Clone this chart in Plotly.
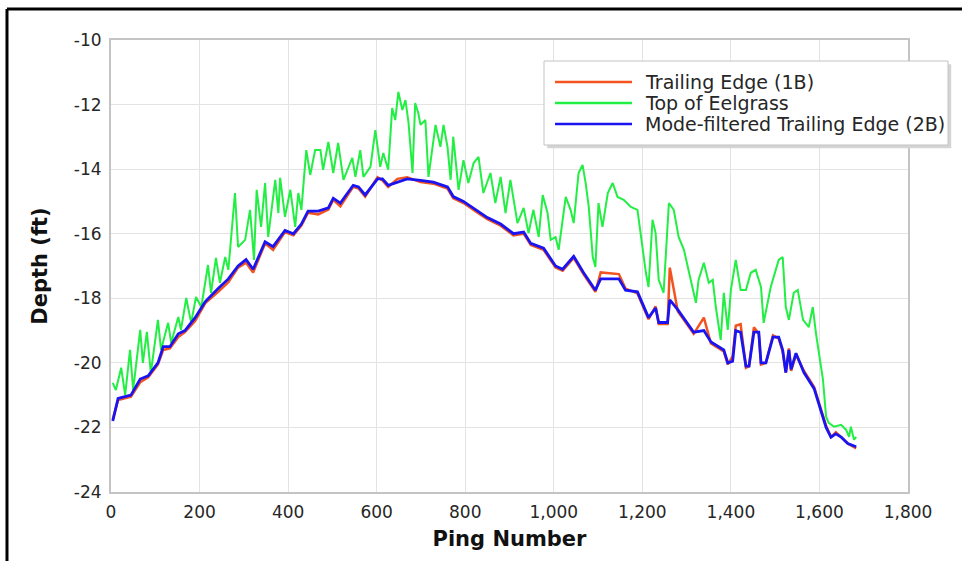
import plotly.graph_objects as go

# ---------------- data ----------------
ping_te = [4, 16, 45, 66, 84, 106, 118, 133, 152, 167,
           190, 213, 242, 265, 287, 305, 321, 337, 348, 366,
           393, 412, 430, 445, 468, 491, 502, 518, 547, 559,
           574, 602, 613, 626, 647, 669, 699, 728, 760, 773,
           796, 828, 850, 880, 909, 932, 948, 977, 1004, 1020,
           1045, 1067, 1094, 1106, 1147, 1162, 1189, 1214, 1230, 1237,
           1257, 1262, 1280, 1316, 1339, 1355, 1384, 1393, 1404, 1411,
           1422, 1434, 1441, 1452, 1463, 1468, 1479, 1495, 1508, 1517,
           1524, 1531, 1536, 1547, 1565, 1588, 1603, 1615, 1626, 1637,
           1649, 1664, 1683]

mode_filtered = [-21.8, -21.1, -21.0, -20.5, -20.4, -20.0, -19.5, -19.5, -19.1, -19.0,
                 -18.6, -18.1, -17.7, -17.4, -17.0, -16.8, -17.1, -16.6, -16.25, -16.4,
                 -15.9, -16.0, -15.7, -15.3, -15.3, -15.2, -14.9, -15.05, -14.5, -14.55,
                 -14.8, -14.3, -14.3, -14.5, -14.4, -14.3, -14.35, -14.4, -14.55, -14.85,
                 -15.0, -15.3, -15.5, -15.7, -16.0, -15.95, -16.3, -16.45, -17.0, -17.1,
                 -16.7, -17.2, -17.75, -17.4, -17.4, -17.75, -17.8, -18.6, -18.3, -18.75,
                 -18.75, -18.05, -18.35, -19.05, -19.0, -19.35, -19.6, -20.0, -19.95, -19.0,
                 -19.05, -20.1, -20.1, -19.05, -19.05, -20.0, -20.0, -19.2, -19.2, -19.6,
                 -20.3, -19.6, -20.2, -19.7, -20.3, -20.8, -21.45, -22.0, -22.3, -22.2,
                 -22.3, -22.5, -22.6]

trailing_edge = [-21.75, -21.15, -21.05, -20.6, -20.45, -20.05, -19.6, -19.55, -19.2, -19.05,
                 -18.7, -18.15, -17.8, -17.5, -17.05, -16.9, -17.2, -16.65, -16.3, -16.5,
                 -15.95, -16.05, -15.75, -15.35, -15.4, -15.25, -14.95, -15.15, -14.55, -14.6,
                 -14.85, -14.25, -14.35, -14.55, -14.3, -14.25, -14.4, -14.45, -14.6, -14.9,
                 -15.05, -15.35, -15.55, -15.75, -16.05, -16.0, -16.35, -16.5, -17.05, -17.15,
                 -16.75, -17.25, -17.8, -17.2, -17.25, -17.7, -17.85, -18.65, -18.25, -18.8,
                 -18.8, -17.05, -18.4, -19.1, -18.6, -19.4, -19.65, -20.05, -19.8, -18.85,
                 -18.8, -20.15, -20.1, -18.9, -19.1, -20.05, -20.0, -19.15, -19.25, -19.65,
                 -20.3, -19.55, -20.25, -19.75, -20.25, -20.75, -21.4, -21.95, -22.3, -22.15,
                 -22.3, -22.5, -22.65]

ping_eg = [4, 11, 23, 32, 43, 50, 66, 72, 81, 90,
           106, 113, 129, 136, 152, 158, 170, 181, 192, 204,
           219, 226, 237, 246, 258, 265, 280, 287, 303, 314,
           323, 329, 339, 348, 355, 371, 378, 382, 393, 405,
           416, 423, 430, 441, 450, 461, 473, 479, 491, 502,
           513, 525, 545, 552, 563, 570, 586, 597, 608, 615,
           626, 635, 642, 649, 658, 665, 672, 681, 687, 694,
           699, 710, 717, 733, 744, 751, 760, 767, 773, 785,
           796, 807, 819, 830, 841, 857, 868, 880, 891, 902,
           918, 932, 943, 954, 966, 975, 986, 993, 1004, 1011,
           1027, 1038, 1045, 1056, 1065, 1072, 1079, 1088, 1094, 1101,
           1110, 1122, 1133, 1144, 1158, 1174, 1189, 1196, 1208, 1214,
           1223, 1230, 1237, 1248, 1260, 1271, 1282, 1294, 1305, 1321,
           1327, 1339, 1350, 1359, 1366, 1377, 1384, 1393, 1400, 1411,
           1422, 1434, 1445, 1456, 1468, 1474, 1490, 1508, 1517, 1524,
           1531, 1542, 1551, 1563, 1576, 1585, 1592, 1599, 1608, 1615,
           1621, 1633, 1649, 1660, 1667, 1671, 1678, 1683]

eelgrass_top = [-20.62, -20.84, -20.15, -20.99, -19.6, -20.84, -18.98, -20.0, -19.04, -20.31,
                -18.67, -19.6, -18.76, -19.38, -18.58, -18.98, -17.99, -18.76, -17.96, -18.27,
                -16.97, -17.83, -16.75, -17.52, -16.72, -17.12, -14.74, -16.41, -16.19, -15.26,
                -16.81, -14.64, -15.79, -14.43, -16.10, -14.33, -15.36, -14.27, -15.48, -14.64,
                -15.79, -14.74, -15.26, -13.41, -14.18, -13.41, -13.41, -14.02, -13.16, -14.12,
                -13.19, -14.33, -13.65, -14.24, -13.41, -14.24, -13.93, -12.79, -13.93, -13.50,
                -14.02, -12.11, -12.48, -11.61, -12.17, -11.86, -12.57, -14.12, -11.95, -12.26,
                -12.63, -12.48, -14.24, -12.63, -13.31, -12.63, -13.31, -14.33, -13.0, -14.64,
                -13.72, -14.43, -13.81, -13.62, -14.74, -14.12, -15.05, -14.24, -15.36, -14.33,
                -15.67, -15.2, -15.98, -15.26, -16.1, -14.8, -15.36, -16.19, -16.1, -16.5,
                -14.86, -15.26, -15.67, -14.12, -13.87, -14.43, -15.17, -16.72, -17.03, -15.05,
                -15.79, -14.74, -14.43, -14.86, -14.95, -15.17, -15.26, -15.98, -17.21, -17.65,
                -15.57, -15.98, -17.43, -17.83, -15.05, -15.26, -16.1, -16.5, -17.21, -18.14,
                -17.43, -16.9, -17.52, -17.43, -18.27, -19.29, -17.83, -18.98, -17.74, -16.81,
                -17.74, -17.74, -17.21, -17.12, -17.65, -18.76, -17.65, -16.81, -16.72, -18.27,
                -18.67, -17.83, -17.74, -18.67, -18.89, -18.27, -19.07, -19.69, -20.53, -21.67,
                -21.86, -21.98, -21.92, -22.07, -22.29, -21.98, -22.38, -22.29]

x_ticks = [0, 200, 400, 600, 800, 1000, 1200, 1400, 1600, 1800]
x_tick_labels = ["0", "200", "400", "600", "800", "1,000", "1,200", "1,400", "1,600", "1,800"]
y_ticks = [-24, -22, -20, -18, -16, -14, -12, -10]
y_tick_labels = ["-24", "-22", "-20", "-18", "-16", "-14", "-12", "-10"]

series_names = ["Trailing Edge (1B)", "Top of Eelgrass", "Mode-filtered Trailing Edge (2B)"]
series_colors = ["#f2531f", "#22ee44", "#1a14f0"]

assert len(ping_te) == len(mode_filtered) == len(trailing_edge)
assert len(ping_eg) == len(eelgrass_top)

# ---------------- figure ----------------
FONT = "DejaVu Sans, Arial, sans-serif"
TXT = "#262626"

fig = go.Figure()
fig.add_trace(go.Scatter(x=ping_te, y=trailing_edge, mode="lines", name=series_names[0],
                         line=dict(color=series_colors[0], width=2.5)))
fig.add_trace(go.Scatter(x=ping_eg, y=eelgrass_top, mode="lines", name=series_names[1],
                         line=dict(color=series_colors[1], width=2)))
fig.add_trace(go.Scatter(x=ping_te, y=mode_filtered, mode="lines", name=series_names[2],
                         line=dict(color=series_colors[2], width=2.8)))

# legend box drawn as paper-anchored decoration (matches reference's long swatches)
L_X0, L_X1, L_Y0, L_Y1 = 0.5433, 1.0502, 0.7677, 0.9535
SW_X0, SW_X1, TXT_X = 0.5571, 0.6537, 0.6675
ROW_Y = [0.9071, 0.8606, 0.8142]

shapes = [
    # outer black frame (top and left edges are visible in the reference)
    dict(type="line", xref="paper", yref="paper", x0=-0.1305, x1=1.07, y0=1.0686, y1=1.0686,
         line=dict(color="black", width=3)),
    dict(type="line", xref="paper", yref="paper", x0=-0.1305, x1=-0.1305, y0=1.0686, y1=-0.16,
         line=dict(color="black", width=3)),
    # legend shadow + box
    dict(type="rect", xref="paper", yref="paper", x0=L_X0 + 0.004, x1=L_X1 + 0.004,
         y0=L_Y0 - 0.007, y1=L_Y1 - 0.007, line=dict(width=0), fillcolor="#d4d4d4", layer="above"),
    dict(type="rect", xref="paper", yref="paper", x0=L_X0, x1=L_X1, y0=L_Y0, y1=L_Y1,
         line=dict(color="#c4c4c4", width=1), fillcolor="white", layer="above"),
]
annotations = []
for name, color, ry in zip(series_names, series_colors, ROW_Y):
    shapes.append(dict(type="line", xref="paper", yref="paper", x0=SW_X0, x1=SW_X1, y0=ry, y1=ry,
                       line=dict(color=color, width=2.5), layer="above"))
    annotations.append(dict(xref="paper", yref="paper", x=TXT_X, y=ry, xanchor="left", yanchor="middle",
                            text=name, showarrow=False,
                            font=dict(family=FONT, size=19, color=TXT)))

fig.update_layout(
    width=962, height=561, autosize=False,
    margin=dict(l=111, r=54, t=40, b=69, pad=0),
    paper_bgcolor="white", plot_bgcolor="white",
    font=dict(family=FONT, size=17, color=TXT),
    showlegend=False,
    xaxis=dict(range=[0, 1800], tickmode="array", tickvals=x_ticks, ticktext=x_tick_labels,
               showgrid=True, gridcolor="#e3e3e3", gridwidth=1,
               showline=True, linecolor="#c4c4c4", linewidth=2, mirror=True,
               zeroline=False, ticks="", ticklabelstandoff=4,
               tickfont=dict(family=FONT, size=17, color=TXT),
               title=dict(text="<b>Ping Number</b>", standoff=10,
                          font=dict(family=FONT, size=21, color="#111111"))),
    yaxis=dict(range=[-24, -10], tickmode="array", tickvals=y_ticks, ticktext=y_tick_labels,
               showgrid=True, gridcolor="#e3e3e3", gridwidth=1,
               showline=True, linecolor="#c4c4c4", linewidth=2, mirror=True,
               zeroline=False, ticks="", ticklabelstandoff=4,
               tickfont=dict(family=FONT, size=17, color=TXT),
               title=dict(text="<b>Depth (ft)</b>", standoff=20,
                          font=dict(family=FONT, size=21, color="#111111"))),
    shapes=shapes,
    annotations=annotations,
)

fig.write_html("out.html")
